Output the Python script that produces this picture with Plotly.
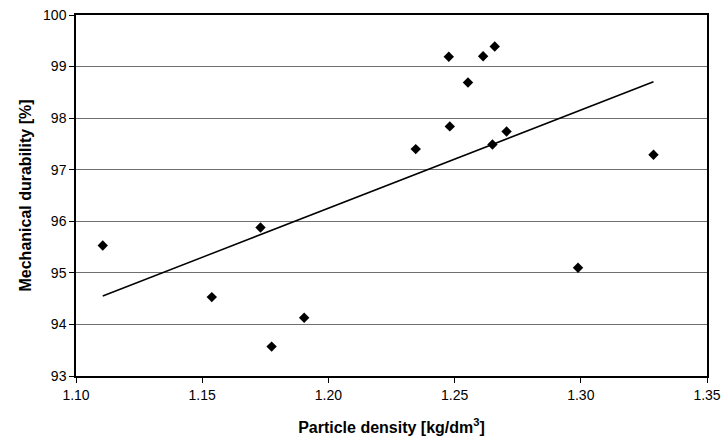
import numpy as np
import plotly.graph_objects as go

density = [1.1106, 1.1538, 1.1731, 1.1775, 1.1904, 1.2346, 1.2477, 1.2481,
           1.2553, 1.2613, 1.2659, 1.2650, 1.2706, 1.2989, 1.3288]
durability = [95.53, 94.53, 95.88, 93.57, 94.13, 97.40, 99.19, 97.84,
              98.69, 99.20, 99.39, 97.49, 97.74, 95.10, 97.29]

x_ticks = [1.10, 1.15, 1.20, 1.25, 1.30, 1.35]
x_tick_labels = ["1.10", "1.15", "1.20", "1.25", "1.30", "1.35"]
y_ticks = [93, 94, 95, 96, 97, 98, 99, 100]

slope, intercept = np.polyfit(density, durability, 1)
xt = [min(density), max(density)]
yt = [slope * v + intercept for v in xt]

fig = go.Figure()
fig.add_trace(go.Scatter(x=xt, y=yt, mode="lines",
                         line=dict(color="black", width=1.5), hoverinfo="skip"))
fig.add_trace(go.Scatter(x=density, y=durability, mode="markers",
                         marker=dict(symbol="diamond", size=8, color="black")))

fig.update_layout(
    width=721, height=439,
    margin=dict(l=76, r=14, t=15, b=63),
    paper_bgcolor="white", plot_bgcolor="white",
    showlegend=False,
    font=dict(family="Liberation Sans, Arial, sans-serif", size=14, color="black"),
    xaxis=dict(range=[1.10, 1.35], tickvals=x_ticks, ticktext=x_tick_labels,
               showgrid=False, zeroline=False, automargin=False,
               showline=True, linecolor="black", linewidth=1.5, mirror=True,
               ticks="outside", ticklen=5, tickcolor="black",
               title=dict(text="<b>Particle density [kg/dm<sup>3</sup>]</b>",
                          font=dict(size=16), standoff=20)),
    yaxis=dict(range=[93, 100], tickvals=y_ticks,
               showgrid=True, gridcolor="#707070", gridwidth=1, zeroline=False,
               automargin=False,
               showline=True, linecolor="black", linewidth=1.5, mirror=True,
               ticks="outside", ticklen=5, tickcolor="black",
               title=dict(text="<b>Mechanical durability [%]</b>",
                          font=dict(size=16), standoff=7)),
)

fig.write_html("out.html", config={"displayModeBar": False},
               post_script="document.body.style.margin='0';document.body.style.overflow='hidden';")
